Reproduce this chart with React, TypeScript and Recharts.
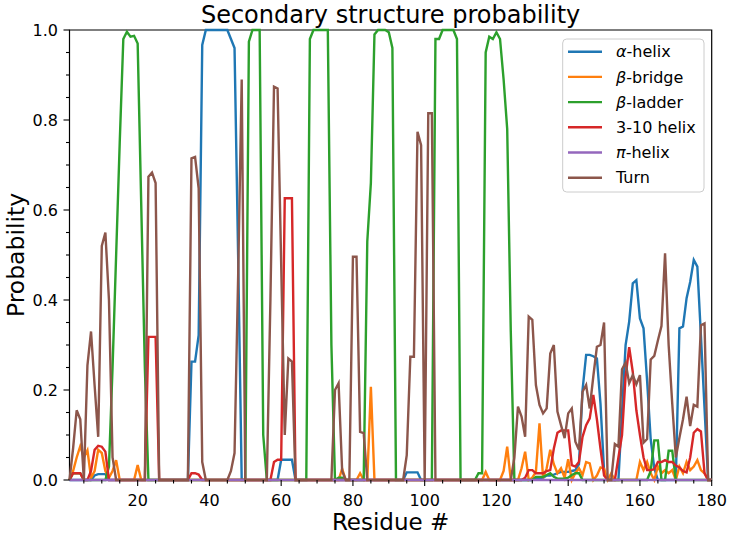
import { LineChart, Line, XAxis, YAxis, ReferenceArea } from "recharts";

// residue index 1..180
const residues = Array.from({ length: 180 }, (_, i) => i + 1);

const alphaHelix = [
  0, 0, 0, 0, 0, 0, 0, 0.01, 0.013, 0.013,
  0.013, 0, 0, 0, 0, 0, 0, 0, 0, 0,
  0, 0, 0, 0, 0, 0, 0, 0, 0, 0,
  0, 0, 0, 0, 0.263, 0.263, 0.322, 0.967, 1, 1,
  1, 1, 1, 1, 1, 0.98, 0.96, 0.5, 0, 0,
  0, 0, 0, 0, 0, 0, 0, 0, 0, 0.045,
  0.045, 0.045, 0.045, 0, 0, 0, 0, 0, 0, 0,
  0, 0, 0, 0, 0, 0, 0, 0, 0, 0,
  0, 0, 0, 0, 0, 0, 0, 0, 0, 0,
  0, 0, 0, 0, 0.017, 0.017, 0.017, 0.017, 0, 0,
  0, 0, 0, 0, 0, 0, 0, 0, 0, 0,
  0, 0, 0, 0, 0, 0, 0, 0, 0, 0,
  0, 0, 0, 0, 0, 0, 0, 0, 0, 0,
  0.005, 0.005, 0.005, 0.01, 0.01, 0.012, 0.015, 0.018, 0.018, 0.018,
  0.02, 0.022, 0.035, 0.2, 0.278, 0.278, 0.275, 0.27, 0.17, 0.02,
  0, 0, 0, 0, 0.15, 0.3, 0.352, 0.437, 0.444, 0.359,
  0.337, 0.22, 0.09, 0.026, 0, 0, 0, 0, 0, 0,
  0.337, 0.341, 0.404, 0.44, 0.489, 0.474, 0.32, 0.16, 0, 0,
];

const betaBridge = [
  0, 0.02, 0.05, 0.075, 0.05, 0.066, 0.005, 0.02, 0.067, 0.06,
  0.02, 0.005, 0.02, 0.044, 0, 0, 0, 0, 0, 0.033,
  0, 0, 0, 0, 0, 0, 0, 0, 0, 0,
  0, 0, 0, 0, 0, 0, 0, 0, 0, 0,
  0, 0, 0, 0, 0, 0, 0, 0, 0, 0,
  0, 0, 0, 0, 0, 0, 0, 0, 0, 0,
  0, 0, 0, 0, 0, 0, 0, 0, 0, 0,
  0, 0, 0, 0, 0, 0, 0.025, 0, 0, 0,
  0, 0.015, 0, 0, 0.207, 0, 0, 0, 0, 0,
  0, 0, 0, 0, 0, 0, 0, 0, 0, 0,
  0, 0, 0, 0, 0, 0, 0, 0, 0, 0,
  0, 0, 0, 0, 0, 0, 0.018, 0, 0, 0,
  0, 0.02, 0.074, 0, 0, 0, 0.026, 0.063, 0, 0.005,
  0.018, 0.126, 0.004, 0.026, 0.067, 0.035, 0.015, 0.026, 0.005, 0.046,
  0, 0.015, 0.026, 0.011, 0.04, 0.037, 0, 0.01, 0.028, 0.025,
  0, 0.015, 0, 0, 0, 0, 0, 0, 0, 0.04,
  0.022, 0.04, 0.015, 0, 0.03, 0.015, 0.022, 0.015, 0.022, 0,
  0.03, 0.015, 0.04, 0.022, 0.03, 0.044, 0.022, 0.015, 0, 0,
];

const betaLadder = [
  0, 0.015, 0.015, 0.015, 0, 0, 0, 0, 0, 0,
  0, 0.03, 0.25, 0.5, 0.75, 0.98, 0.996, 0.985, 0.987, 0.97,
  0.61, 0.25, 0, 0, 0, 0, 0, 0, 0, 0,
  0, 0, 0, 0, 0, 0, 0, 0, 0, 0,
  0, 0, 0, 0, 0, 0, 0, 0, 0, 0,
  0.974, 1, 1, 1, 0.1, 0, 0, 0, 0, 0,
  0, 0, 0, 0, 0, 0, 0, 0.98, 1, 1,
  1, 1, 1, 0.3, 0, 0.005, 0.005, 0, 0, 0,
  0, 0, 0, 0.53, 0.66, 0.99, 1, 1, 1, 0.995,
  0.96, 0, 0, 0, 0, 0, 0, 0, 0, 0,
  0, 0, 0.98, 0.98, 1, 1, 1, 1, 0.98, 0,
  0, 0, 0, 0, 0.015, 0.015, 0.95, 0.985, 0.98, 0.995,
  0.98, 0.89, 0.78, 0.33, 0, 0, 0, 0, 0, 0,
  0.007, 0.007, 0.007, 0.011, 0.015, 0.007, 0.003, 0.003, 0.003, 0.005,
  0.011, 0.015, 0.015, 0, 0, 0, 0, 0, 0, 0,
  0, 0, 0, 0, 0, 0, 0, 0, 0, 0,
  0, 0, 0.02, 0.088, 0.088, 0, 0, 0.065, 0.065, 0,
  0, 0, 0, 0, 0, 0, 0, 0, 0, 0,
];

const helix310 = [
  0, 0.015, 0.015, 0.015, 0, 0, 0.02, 0.067, 0.076, 0.074,
  0.063, 0, 0, 0, 0, 0, 0, 0, 0, 0,
  0, 0, 0.318, 0.318, 0.318, 0, 0, 0, 0, 0,
  0, 0, 0, 0, 0.015, 0.015, 0.012, 0, 0, 0,
  0, 0, 0, 0, 0, 0, 0, 0, 0, 0,
  0, 0, 0, 0, 0, 0, 0, 0.04, 0.045, 0.045,
  0.626, 0.626, 0.626, 0, 0, 0, 0, 0, 0, 0,
  0, 0, 0, 0, 0, 0, 0, 0, 0, 0,
  0, 0, 0, 0, 0, 0, 0, 0, 0, 0,
  0, 0, 0, 0, 0, 0, 0, 0, 0, 0,
  0, 0, 0, 0, 0, 0, 0, 0, 0, 0,
  0, 0, 0, 0, 0, 0, 0, 0, 0, 0,
  0, 0, 0, 0, 0, 0, 0, 0.005, 0.022, 0.022,
  0.015, 0.015, 0.015, 0.02, 0.022, 0.07, 0.105, 0.11, 0.11, 0.11,
  0.033, 0.03, 0.04, 0.096, 0.122, 0.137, 0.189, 0.135, 0.07, 0.01,
  0, 0, 0, 0.05, 0.1, 0.23, 0.295, 0.24, 0.155, 0.1,
  0.05, 0.022, 0.022, 0.024, 0.04, 0.04, 0.044, 0.04, 0.04, 0.032,
  0.028, 0.02, 0.017, 0.05, 0.105, 0.113, 0.108, 0.015, 0, 0,
];

const piHelix = [
  0, 0, 0, 0, 0, 0, 0, 0, 0, 0,
  0, 0, 0, 0, 0, 0, 0, 0, 0, 0,
  0, 0, 0, 0, 0, 0, 0, 0, 0, 0,
  0, 0, 0, 0, 0, 0, 0, 0, 0, 0,
  0, 0, 0, 0, 0, 0, 0, 0, 0, 0,
  0, 0, 0, 0, 0, 0, 0, 0, 0, 0,
  0, 0, 0, 0, 0, 0, 0, 0, 0, 0,
  0, 0, 0, 0, 0, 0, 0, 0, 0, 0,
  0, 0, 0, 0, 0, 0, 0, 0, 0, 0,
  0, 0, 0, 0, 0, 0, 0, 0, 0, 0,
  0, 0, 0, 0, 0, 0, 0, 0, 0, 0,
  0, 0, 0, 0, 0, 0, 0, 0, 0, 0,
  0, 0, 0, 0, 0, 0, 0, 0, 0, 0,
  0, 0, 0, 0, 0, 0, 0, 0, 0, 0,
  0, 0, 0, 0, 0, 0, 0, 0, 0, 0,
  0, 0, 0, 0, 0, 0, 0, 0, 0, 0,
  0, 0, 0, 0, 0, 0, 0, 0, 0, 0,
  0, 0, 0, 0, 0, 0, 0, 0, 0, 0,
];

const turn = [
  0, 0.07, 0.155, 0.135, 0, 0.255, 0.33, 0.21, 0.096, 0.52,
  0.55, 0.4, 0.05, 0, 0, 0, 0, 0, 0, 0,
  0, 0, 0.674, 0.683, 0.66, 0, 0, 0, 0, 0,
  0, 0, 0, 0, 0.715, 0.718, 0.648, 0.04, 0, 0,
  0, 0, 0, 0, 0, 0.02, 0.06, 0.45, 0.89, 0,
  0, 0, 0, 0, 0, 0, 0.4, 0.874, 0.87, 0.48,
  0.1, 0.27, 0.263, 0, 0, 0, 0, 0, 0, 0,
  0, 0, 0, 0, 0.2, 0.215, 0.02, 0, 0, 0.496,
  0.496, 0.107, 0.104, 0, 0, 0, 0, 0, 0, 0,
  0, 0, 0, 0, 0.055, 0.274, 0.274, 0.774, 0.744, 0,
  0.815, 0.815, 0, 0, 0, 0, 0, 0, 0, 0,
  0, 0, 0, 0, 0, 0, 0, 0, 0, 0,
  0, 0, 0, 0, 0.05, 0.163, 0.141, 0.096, 0.363, 0.356,
  0.211, 0.167, 0.148, 0.159, 0.281, 0.3, 0.152, 0.122, 0.093, 0.148,
  0.159, 0.085, 0.067, 0.196, 0.211, 0.159, 0.23, 0.296, 0.3, 0.35,
  0, 0, 0.08, 0.074, 0.246, 0.261, 0.215, 0.233, 0.213, 0.233,
  0.083, 0.091, 0.268, 0.276, 0.31, 0.342, 0.504, 0.3, 0.17, 0.05,
  0.094, 0.135, 0.185, 0.12, 0.167, 0.163, 0.344, 0.348, 0, 0,
];

const xTicks = [5, 10, 15, 20, 25, 30, 35, 40, 45, 50, 55, 60, 65, 70, 75, 80, 85, 90,
  95, 100, 105, 110, 115, 120, 125, 130, 135, 140, 145, 150, 155, 160, 165, 170, 175, 180];
const yTicks = [0, 0.05, 0.1, 0.15, 0.2, 0.25, 0.3, 0.35, 0.4, 0.45, 0.5,
  0.55, 0.6, 0.65, 0.7, 0.75, 0.8, 0.85, 0.9, 0.95, 1];

const series = [
  { key: "alpha", label: "α", rest: "-helix", italic: true, color: "#1f77b4", values: alphaHelix },
  { key: "bridge", label: "β", rest: "-bridge", italic: true, color: "#ff7f0e", values: betaBridge },
  { key: "ladder", label: "β", rest: "-ladder", italic: true, color: "#2ca02c", values: betaLadder },
  { key: "h310", label: "", rest: "3-10 helix", italic: false, color: "#d62728", values: helix310 },
  { key: "pi", label: "π", rest: "-helix", italic: true, color: "#9467bd", values: piHelix },
  { key: "turn", label: "", rest: "Turn", italic: false, color: "#8c564b", values: turn },
];

const data = residues.map((r, i) => {
  const row: Record<string, number> = { r };
  series.forEach((s) => (row[s.key] = s.values[i]));
  return row;
});

const W = 730;
const H = 535;
const LEFT = 69.5;
const RIGHT = 711.7;
const TOP = 30;
const BOTTOM = 480;
const FONT = "DejaVu Sans";

function XTick(props: any) {
  const { x, payload } = props;
  const major = payload.value % 20 === 0;
  return (
    <g>
      <line x1={x} x2={x} y1={BOTTOM} y2={BOTTOM + (major ? 6 : 3.5)} stroke="#000" strokeWidth={1.1} />
      {major && (
        <text x={x} y={505.5} textAnchor="middle" fontSize={16} fontFamily={FONT} fill="#000">
          {payload.value}
        </text>
      )}
    </g>
  );
}

function YTick(props: any) {
  const { y, payload } = props;
  const v = payload.value;
  const major = Math.abs(v * 5 - Math.round(v * 5)) < 1e-6;
  return (
    <g>
      <line x1={LEFT - (major ? 6 : 3.5)} x2={LEFT} y1={y} y2={y} stroke="#000" strokeWidth={1.1} />
      {major && (
        <text x={58} y={y + 5.8} textAnchor="end" fontSize={16} fontFamily={FONT} fill="#000">
          {v.toFixed(1)}
        </text>
      )}
    </g>
  );
}

export default function App() {
  const legendTop = 39;
  const rowH = 25.2;
  return (
    <div style={{ position: "absolute", left: 0, top: 0, width: W, height: H, background: "#fff" }}>
      <LineChart
        width={W}
        height={H}
        data={data}
        margin={{ top: TOP, right: W - RIGHT, bottom: 25, left: LEFT - 60 }}
      >
        <XAxis
          dataKey="r"
          type="number"
          domain={[1, 180]}
          ticks={xTicks}
          interval={0}
          height={30}
          axisLine={false}
          tickLine={false}
          tick={XTick}
          label={() => (
            <text x={(LEFT + RIGHT) / 2} y={530} textAnchor="middle" fontSize={23} fontFamily={FONT} fill="#000">
              Residue #
            </text>
          )}
        />
        <YAxis
          type="number"
          domain={[0, 1]}
          ticks={yTicks}
          interval={0}
          width={60}
          axisLine={false}
          tickLine={false}
          tick={YTick}
          label={() => (
            <text
              x={24}
              y={(TOP + BOTTOM) / 2}
              transform={`rotate(-90, 24, ${(TOP + BOTTOM) / 2})`}
              textAnchor="middle"
              fontSize={23.5}
              fontFamily={FONT}
              fill="#000"
            >
              Probability
            </text>
          )}
        />
        {series.map((s) => (
          <Line
            key={s.key}
            type="linear"
            dataKey={s.key}
            stroke={s.color}
            strokeWidth={2.4}
            dot={false}
            activeDot={false}
            isAnimationActive={false}
          />
        ))}
        <ReferenceArea x1={1} x2={180} y1={0} y2={1} fill="none" stroke="#000" strokeWidth={1.2} ifOverflow="visible" />
      </LineChart>
      <svg width={W} height={H} style={{ position: "absolute", left: 0, top: 0, pointerEvents: "none" }}>
        <text x={(LEFT + RIGHT) / 2} y={23} textAnchor="middle" fontSize={24} fontFamily={FONT} fill="#000">
          Secondary structure probability
        </text>
        <rect x={562.7} y={legendTop} width={141.3} height={153} rx={4} fill="#fff" fillOpacity={0.8} stroke="#cccccc" strokeWidth={1} />
        {series.map((s, i) => {
          const cy = legendTop + 12.7 + i * rowH;
          return (
            <g key={s.key}>
              <line x1={568} x2={602} y1={cy} y2={cy} stroke={s.color} strokeWidth={2.4} />
              <text x={616} y={cy + 5.7} fontSize={16} fontFamily={FONT} fill="#000">
                {s.label && <tspan fontStyle={s.italic ? "italic" : "normal"}>{s.label}</tspan>}
                {s.rest}
              </text>
            </g>
          );
        })}
      </svg>
    </div>
  );
}
